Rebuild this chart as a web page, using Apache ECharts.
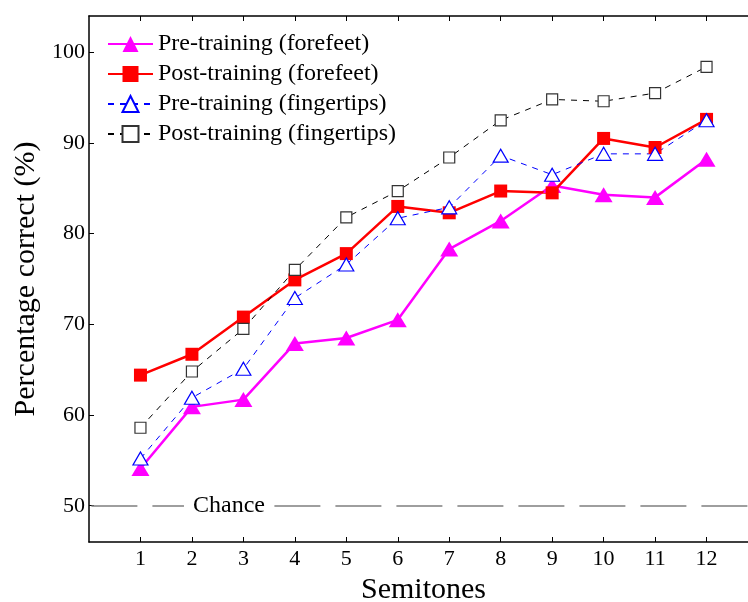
<!DOCTYPE html>
<html>
<head>
<meta charset="utf-8">
<script src="https://cdn.jsdelivr.net/npm/echarts@6/dist/echarts.min.js"></script>
<style>
  html, body { margin: 0; padding: 0; background: #fff; }
  #chart { width: 748px; height: 602px; }
</style>
</head>
<body>
<div id="chart"></div>
<script>
// Semitone steps on the x axis
const semitones = [1, 2, 3, 4, 5, 6, 7, 8, 9, 10, 11, 12];

// Percentage correct for each condition
const preForefeet    = [54.1, 60.9, 61.7, 67.9, 68.5, 70.5, 78.3, 81.4, 85.3, 84.3, 84.0, 88.2];
const postForefeet   = [64.4, 66.7, 70.8, 74.9, 77.8, 83.0, 82.3, 84.7, 84.5, 90.5, 89.5, 92.6];
const preFingertips  = [55.2, 61.9, 65.1, 72.9, 76.6, 81.7, 82.9, 88.6, 86.5, 88.8, 88.8, 92.5];
const postFingertips = [58.6, 64.8, 69.5, 76.0, 81.8, 84.7, 88.4, 92.5, 94.8, 94.6, 95.5, 98.4];

// Axis ticks
const yTicks = [50, 60, 70, 80, 90, 100];
const xTicks = semitones;

// Chance level and where its label sits along the x axis
const chanceLevel = 50;
const chanceLabelX = 2.72;

const seriesNames = [
  'Pre-training (forefeet)',
  'Post-training (forefeet)',
  'Pre-training (fingertips)',
  'Post-training (fingertips)'
];

const FONT = "'Liberation Serif', 'Times New Roman', serif";

function pairs(vals) {
  return semitones.map((s, i) => [s, vals[i]]);
}

const chart = echarts.init(document.getElementById('chart'), null, { renderer: 'canvas' });

const axisLine = { show: true, onZero: false, lineStyle: { color: '#000', width: 1.5 } };

chart.setOption({
  animation: false,
  backgroundColor: '#fff',
  grid: { left: 89, top: 16, width: 669, height: 526, containLabel: false, outerBoundsMode: 'none' },
  legend: {
    data: seriesNames,
    orient: 'vertical',
    left: 107,
    top: 32,
    padding: 0,
    itemWidth: 45,
    itemHeight: 20,
    itemGap: 6,
    textStyle: { fontFamily: FONT, fontSize: 24, color: '#000', lineHeight: 24 },
    selectedMode: false
  },
  xAxis: [
    {
      type: 'value',
      min: 0,
      max: 13,
      position: 'bottom',
      name: 'Semitones',
      nameLocation: 'middle',
      nameGap: 31,
      nameTextStyle: { fontFamily: FONT, fontSize: 30, color: '#000' },
      axisLine: axisLine,
      axisTick: { show: true, inside: true, length: 5, customValues: xTicks, lineStyle: { color: '#000', width: 1 } },
      axisLabel: { show: true, customValues: xTicks, margin: 6, fontFamily: FONT, fontSize: 22, color: '#000' },
      splitLine: { show: false }
    },
    {
      type: 'value',
      min: 0,
      max: 13,
      position: 'top',
      axisLine: axisLine,
      axisTick: { show: true, inside: true, length: 5, customValues: xTicks, lineStyle: { color: '#000', width: 1 } },
      axisLabel: { show: false },
      splitLine: { show: false }
    }
  ],
  yAxis: [
    {
      type: 'value',
      min: 46,
      max: 104,
      name: 'Percentage correct (%)',
      nameLocation: 'middle',
      nameGap: 45,
      nameTextStyle: { fontFamily: FONT, fontSize: 30, color: '#000' },
      axisLine: axisLine,
      axisTick: { show: true, inside: true, length: 5, customValues: yTicks, lineStyle: { color: '#000', width: 1 } },
      axisLabel: { show: true, customValues: yTicks, margin: 4, fontFamily: FONT, fontSize: 22, color: '#000' },
      splitLine: { show: false }
    }
  ],
  series: [
    {
      name: 'chance',
      type: 'line',
      data: [],
      silent: true,
      markLine: {
        silent: true,
        symbol: ['none', 'none'],
        label: { show: false },
        lineStyle: { color: '#7f7f7f', width: 1.5, type: [46, 15], dashOffset: 58.6 },
        data: [{ yAxis: chanceLevel }]
      },
      markPoint: {
        silent: true,
        symbol: 'rect',
        symbolSize: [90, 24],
        itemStyle: { color: '#fff' },
        label: {
          show: true,
          position: 'inside',
          formatter: 'Chance',
          fontFamily: FONT,
          fontSize: 24,
          color: '#000'
        },
        data: [{ coord: [chanceLabelX, chanceLevel] }]
      }
    },
    {
      name: seriesNames[0],
      type: 'line',
      data: pairs(preForefeet),
      symbol: 'triangle',
      symbolSize: [18, 15],
      itemStyle: { color: '#ff00ff' },
      lineStyle: { color: '#ff00ff', width: 2.5 }
    },
    {
      name: seriesNames[1],
      type: 'line',
      data: pairs(postForefeet),
      symbol: 'rect',
      symbolSize: 13,
      itemStyle: { color: '#ff0000' },
      lineStyle: { color: '#ff0000', width: 2.5 }
    },
    {
      name: seriesNames[2],
      type: 'line',
      data: pairs(preFingertips),
      symbol: 'triangle',
      symbolSize: [15, 13],
      itemStyle: { color: '#fff', borderColor: '#0000ff', borderWidth: 1.2 },
      lineStyle: { color: '#0000ff', width: 1, type: [6, 6] }
    },
    {
      name: seriesNames[3],
      type: 'line',
      data: pairs(postFingertips),
      symbol: 'rect',
      symbolSize: 11,
      itemStyle: { color: '#fff', borderColor: '#333', borderWidth: 1.2 },
      lineStyle: { color: '#000', width: 1, type: [6, 6] }
    }
  ]
});
</script>
</body>
</html>
